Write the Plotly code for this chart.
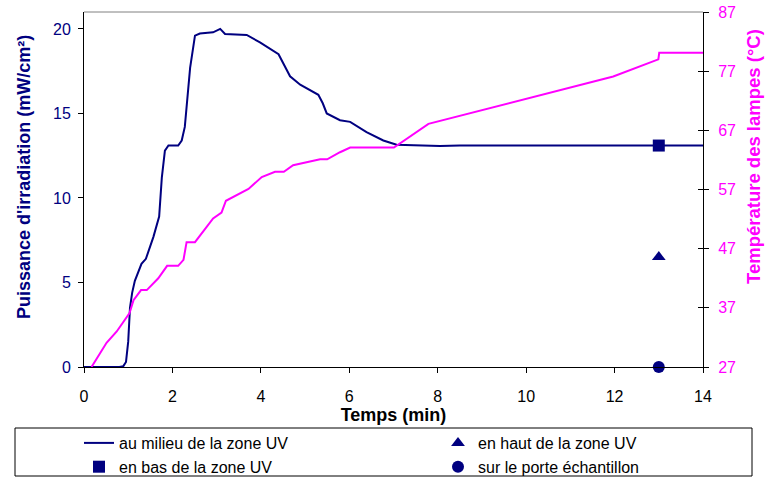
import plotly.graph_objects as go

# Irradiance curve (middle of UV zone)
t_irr = [0.0, 0.3, 0.59, 0.8, 0.89, 0.95, 1.0, 1.04, 1.09, 1.15, 1.30, 1.40, 1.57, 1.70, 1.76, 1.83, 1.91,
         2.13, 2.21, 2.28, 2.40, 2.51, 2.62, 2.92, 3.08, 3.19, 3.68, 3.98, 4.40, 4.66, 4.89, 5.30, 5.40,
         5.49, 5.79, 6.02, 6.39, 6.77, 7.07, 7.5, 8.05, 8.5, 10.0, 12.0, 14.0]
p_irr = [0.0, 0.0, -0.03, 0.0, 0.05, 0.3, 1.5, 3.5, 4.4, 5.1, 6.1, 6.4, 7.7, 8.9, 11.2, 12.8, 13.1,
         13.1, 13.4, 14.2, 17.7, 19.6, 19.73, 19.8, 20.0, 19.7, 19.64, 19.2, 18.5, 17.2, 16.7, 16.1, 15.6,
         15.0, 14.6, 14.5, 13.9, 13.4, 13.15, 13.1, 13.07, 13.1, 13.1, 13.1, 13.1]

# Lamp temperature
t_temp = [0.17, 0.51, 0.74, 1.03, 1.12, 1.29, 1.42, 1.68, 1.88, 2.13, 2.25, 2.32, 2.51, 2.92, 3.11, 3.21,
          3.72, 4.02, 4.32, 4.52, 4.73, 5.34, 5.50, 5.79, 6.02, 7.01, 7.79, 11.97, 12.99, 13.01, 14.0]
temp = [27.0, 31.1, 33.0, 36.1, 38.3, 40.0, 40.0, 42.0, 44.1, 44.1, 45.1, 48.1, 48.1, 52.1, 53.1, 55.1,
        57.1, 59.1, 60.0, 60.0, 61.1, 62.1, 62.1, 63.3, 64.1, 64.1, 68.1, 76.1, 79.0, 80.1, 80.1]

# Point measurements at t = 13 min
pt_time = [13]
pt_haut = [6.5]
pt_bas = [13.1]
pt_porte = [0.0]

x_ticks = [0, 2, 4, 6, 8, 10, 12, 14]
y_ticks = [0, 5, 10, 15, 20]
y2_ticks = [27, 37, 47, 57, 67, 77, 87]

NAVY = "#000080"
MAG = "#FF00FF"
FONT = "Liberation Sans, Arial, sans-serif"

fig = go.Figure()
fig.add_trace(go.Scatter(x=t_temp, y=temp, mode="lines", yaxis="y2", showlegend=False,
                         line=dict(color=MAG, width=2)))
fig.add_trace(go.Scatter(x=t_irr, y=p_irr, mode="lines", name="au milieu de la zone UV",
                         legend="legend", legendgroup="a",
                         line=dict(color=NAVY, width=2)))
fig.add_trace(go.Scatter(x=pt_time, y=pt_bas, mode="markers", name="en bas de la zone UV",
                         legend="legend", legendgroup="b",
                         marker=dict(symbol="square", color=NAVY, size=12)))
fig.add_trace(go.Scatter(x=pt_time, y=pt_haut, mode="markers", name="en haut de la zone UV",
                         legend="legend2", legendgroup="c",
                         marker=dict(symbol="triangle-up", color=NAVY, size=12)))
fig.add_trace(go.Scatter(x=pt_time, y=pt_porte, mode="markers", name="sur le porte échantillon",
                         legend="legend2", legendgroup="d",
                         marker=dict(symbol="circle", color=NAVY, size=12), cliponaxis=False))
fig.add_trace(go.Scatter(x=[], y=[], yaxis="y3", showlegend=False))

L, R, T, B = 84, 62, 12, 110
W, H = 765, 477
pw, ph = W - L - R, H - T - B

def px_x(p):
    return (p - L) / pw

def px_y(p):
    return (H - B - p) / ph

leg_common = dict(orientation="v", yanchor="top", borderwidth=0, bgcolor="rgba(0,0,0,0)",
                  font=dict(size=16), itemwidth=30, tracegroupgap=0)

fig.update_layout(
    width=W, height=H,
    margin=dict(l=L, r=R, t=T, b=B, autoexpand=False),
    paper_bgcolor="white", plot_bgcolor="white",
    font=dict(family=FONT, size=16, color="black"),
    xaxis=dict(range=[0, 14], tickvals=x_ticks, showgrid=False, zeroline=False,
               showline=True, linecolor="black", linewidth=1, ticks="outside", ticklen=5,
               tickcolor="black", tickfont=dict(size=16, color="black"), ticklabelstandoff=10,
               title=dict(text="<b>Temps (min)</b>", font=dict(size=18), standoff=0)),
    yaxis=dict(range=[0, 21], tickvals=y_ticks, showgrid=False, zeroline=False,
               showline=True, linecolor="black", linewidth=1, ticks="outside", ticklen=5,
               tickcolor="black", tickfont=dict(size=16, color=NAVY), ticklabelstandoff=4),
    yaxis2=dict(range=[27, 87], tickvals=y2_ticks, overlaying="y", side="right", anchor="x",
                showgrid=False, zeroline=False, showline=True, linecolor="black", linewidth=1,
                ticks="outside", ticklen=5, tickcolor="black", tickfont=dict(size=16, color=MAG),
                ticklabelstandoff=6),
    yaxis3=dict(range=[27, 87], tickvals=y2_ticks, overlaying="y", side="right", anchor="x",
                showgrid=False, zeroline=False, showline=False, ticks="inside", ticklen=5,
                tickcolor="black", showticklabels=False),
    legend=dict(x=px_x(79), xanchor="left", y=px_y(426), **leg_common),
    legend2=dict(x=px_x(438), xanchor="left", y=px_y(426), **leg_common),
    annotations=[
        dict(text="<b>Puissance d'irradiation (mW/cm²)</b>", xref="paper", yref="paper",
             x=px_x(24), y=px_y(177), xanchor="center", yanchor="middle", textangle=-90,
             showarrow=False, font=dict(size=18, color=NAVY)),
        dict(text="<b>Température des lampes (°C)</b>", xref="paper", yref="paper",
             x=px_x(753), y=px_y(157), xanchor="center", yanchor="middle", textangle=-90,
             showarrow=False, font=dict(size=18.5, color=MAG)),
    ],
    shapes=[
        dict(type="line", xref="paper", yref="paper", x0=0, x1=1, y0=1, y1=1,
             line=dict(color="#808080", width=1)),
        dict(type="rect", xref="paper", yref="paper", x0=px_x(15), x1=px_x(752),
             y0=px_y(428), y1=px_y(476), line=dict(color="black", width=1)),
    ],
)

fig.write_html("out.html")
